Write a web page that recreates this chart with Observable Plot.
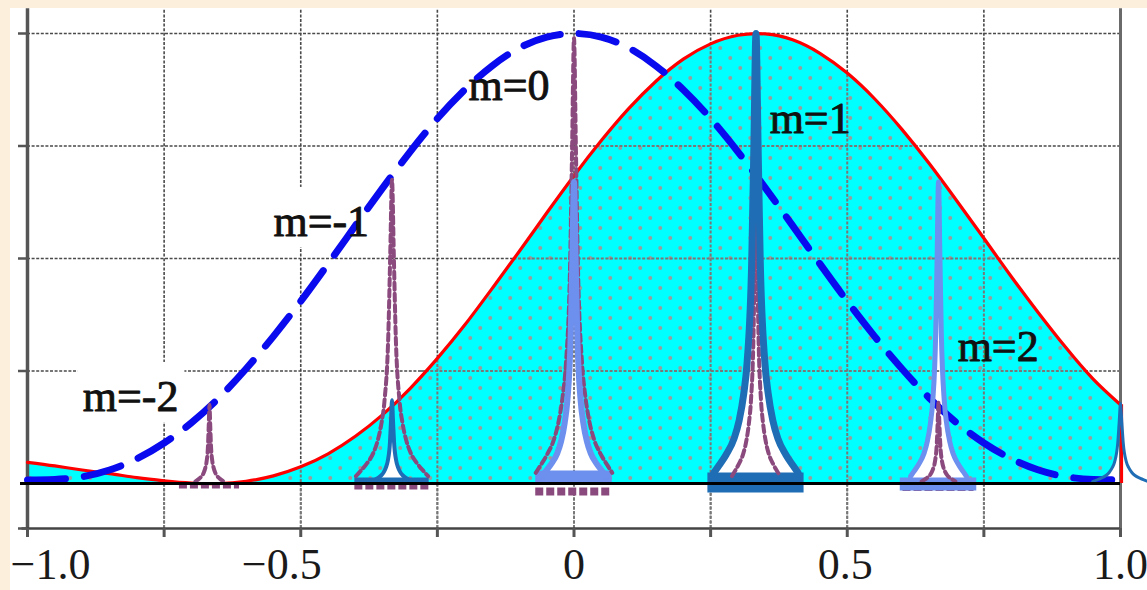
<!DOCTYPE html>
<html>
<head>
<meta charset="utf-8">
<script src="https://cdn.jsdelivr.net/npm/d3@7"></script>
<script src="https://cdn.jsdelivr.net/npm/@observablehq/plot@0.6"></script>
<style>
  html, body { margin: 0; padding: 0; background: #fcf0dc; overflow: hidden; }
  #chart { position: absolute; left: 10px; top: 8px; width: 1137px; height: 582px; background: #ffffff; }
  #chart svg { display: block; }
</style>
</head>
<body>
<div id="chart"></div>
<script>
// ---------------- DATA ----------------
const envX = [-1.00,-0.95,-0.90,-0.85,-0.80,-0.75,-0.70,-0.65,-0.60,-0.55,-0.50,-0.45,-0.40,-0.35,-0.30,-0.25,-0.20,-0.15,-0.10,-0.05,
               0.00, 0.05, 0.10, 0.15, 0.20, 0.25, 0.30, 0.35, 0.40, 0.45, 0.50, 0.55, 0.60, 0.65, 0.70, 0.75, 0.80, 0.85, 0.90, 0.95, 1.00];
// red envelope (filled cyan), peak at 1/3
const blazedEnvelope = [0.047,0.039,0.030,0.022,0.013,0.006,0.001,0.000,0.005,0.017,0.037,0.066,0.105,0.153,0.211,0.278,0.352,0.433,0.516,0.601,
                        0.684,0.762,0.833,0.894,0.943,0.977,0.996,0.999,0.986,0.956,0.912,0.855,0.787,0.711,0.629,0.545,0.460,0.379,0.302,0.232,0.175];
// blue dashed envelope, peak at 0
const gratingEnvelope = [0.008,0.009,0.015,0.030,0.055,0.090,0.135,0.190,0.255,0.327,0.405,0.488,0.573,0.657,0.737,0.811,0.875,0.928,0.968,0.992,
                         1.000,0.992,0.968,0.928,0.875,0.811,0.737,0.657,0.573,0.488,0.405,0.327,0.255,0.190,0.135,0.090,0.055,0.030,0.015,0.009,0.008];

// narrow diffraction orders (shape profile: offset in half-widths, relative height)
const peakProfileU = [-1, -0.88, -0.71, -0.52, -0.4, -0.29, -0.21, -0.1, -0.05, 0, 0.05, 0.1, 0.21, 0.29, 0.4, 0.52, 0.71, 0.88, 1];
const peakProfileR = [0.024, 0.04, 0.064, 0.1, 0.14, 0.2, 0.27, 0.5, 0.75, 1, 0.75, 0.5, 0.27, 0.2, 0.14, 0.1, 0.064, 0.04, 0.024];

const unblazedX      = [-0.667, -0.333, 0.000, 0.333, 0.667];
const unblazedHeight = [0.175, 0.675, 0.990, 0.680, 0.180];
const unblazedWidth  = [0.026, 0.066, 0.070, 0.044, 0.031];

const blazedX      = [-0.333, 0.000, 0.333, 0.667, 1.000];
const blazedHeight = [0.185, 0.670, 1.000, 0.670, 0.178];
const blazedWidth  = [0.037, 0.059, 0.077, 0.051, 0.051];

const xTicks = [-1, -0.75, -0.5, -0.25, 0, 0.25, 0.5, 0.75, 1];
const xLabelTicks = [-1, -0.5, 0, 0.5, 1];
const xTickLabels = ["\u22121.0", "\u22120.5", "0", "0.5", "1.0"];
const yTicks = [-0.1, 0.25, 0.5, 0.75, 1];
const gridX = [-0.75, -0.5, -0.25, 0, 0.25, 0.5, 0.75];
const gridY = [0.25, 0.5, 0.75, 1];
// height of the fill at each vertical grid line, and where the horizontal grid lines enter / leave it
const gridXFillTop    = [0.006, 0.037, 0.278, 0.684, 0.977, 0.912, 0.545];
const gridInFillY     = [0.25, 0.5, 0.75];
const gridInFillLeft  = [-0.279, -0.110, 0.042];
const gridInFillRight = [0.937, 0.777, 0.624];

const orderLabels = ["m=-2", "m=-1", "m=0", "m=1", "m=2"];
const orderLabelX = [-0.899, -0.550, -0.193, 0.358, 0.702];
const orderLabelY = [0.162, 0.551, 0.853, 0.778, 0.273];

// ---------------- STYLES ----------------
const DARK = "#1f6eb5", LIGHT = "#6d8fee", PURPLE = "#8b4a7d", RED = "#ff0000", BLUE = "#0a0aee", CYAN = "#00ffff";
const SERIF = "'Liberation Serif', 'Times New Roman', 'DejaVu Serif', serif";
const blazedStyle = [
  {stroke: DARK,  sw: 4, bar: {half: 0.068, y: 0.008,  sw: 5}},
  {stroke: LIGHT, sw: 6, bar: {half: 0.070, y: 0.0145, sw: 13}},
  {stroke: DARK,  sw: 7, bar: {half: 0.088, y: 0.002,  sw: 20}},
  {stroke: LIGHT, sw: 5, bar: {half: 0.070, y: -0.001, sw: 13}},
  {stroke: DARK,  sw: 3, bar: null}
];
const purpleBar = [
  {half: 0.055, y: -0.0055, sw: 5},
  {half: 0.068, y: -0.0067, sw: 6},
  {half: 0.070, y: -0.018,  sw: 8},
  {half: 0.080, y: -0.010,  sw: 8},
  {half: 0.065, y: -0.010,  sw: 6}
];
const tickLabelDx = [23, -19, 0, -2, 0];

// ---------------- TABLES ----------------
const env = envX.map((x, i) => ({x, blazed: blazedEnvelope[i], grating: gratingEnvelope[i]}));
const peakRows = (c, h, w) => peakProfileU.map((u, j) => ({x: c + u * w, y: h * peakProfileR[j]}));
const unblazed = unblazedX.map((c, i) => peakRows(c, unblazedHeight[i], unblazedWidth[i]));
const blazed = blazedX.map((c, i) => peakRows(c, blazedHeight[i], blazedWidth[i]));
const labels = orderLabels.map((t, i) => ({text: t, x: orderLabelX[i], y: orderLabelY[i]}));

// decorative dot texture of the cyan fill (a regular lattice, kept under the red outline)
const envAt = x => {
  const i = Math.max(0, Math.min(envX.length - 2, Math.floor((x - envX[0]) / 0.05)));
  const t = (x - envX[i]) / (envX[i + 1] - envX[i]);
  return blazedEnvelope[i] + t * (blazedEnvelope[i + 1] - blazedEnvelope[i]);
};
const texture = [];
{
  const stepX = 20 / 546.5, stepY = 10 / 450;
  for (let k = 0; k * stepY < 1; k++) {
    const y = 0.012 + k * stepY;
    const off = (k % 2) * stepX / 2;
    for (let x = -0.995 + off; x < 0.995; x += stepX) {
      if (y < envAt(x) - 0.012) texture.push({x, y});
    }
  }
}

const gridDark = {stroke: "#4a4a4a", strokeWidth: 1.6, strokeDasharray: "3,1.6"};
const gridLight = {stroke: "#787878", strokeWidth: 2, strokeDasharray: "3,1.6"};

const marks = [];
marks.push(Plot.ruleX(gridX, {x: d => d, y1: -0.1, y2: 1.055, ...gridDark}));
marks.push(Plot.ruleY(gridY, {y: d => d, x1: -1, x2: 1, ...gridDark}));
marks.push(Plot.rect(labels.slice(0, 2), {x1: d => d.x - 0.009, x2: d => d.x + 0.187, y1: d => d.y - 0.027, y2: d => d.y + 0.107, fill: "white"}));
// cyan area under the red envelope + dot texture
marks.push(Plot.areaY(env, {x: "x", y: "blazed", curve: "natural", fill: CYAN}));
marks.push(Plot.dot(texture, {x: "x", y: "y", r: 2, fill: "#9c9c9c", stroke: "none"}));
// white interiors of the blazed peaks
blazed.forEach(rows => marks.push(Plot.areaY(rows, {x: "x", y: "y", curve: "monotone-x", fill: "white"})));
// lighter grid over the fill
marks.push(Plot.ruleX(gridX, {x: d => d, y1: -0.1, y2: (d, i) => gridXFillTop[i], ...gridLight}));
marks.push(Plot.ruleY(gridInFillY, {y: d => d, x1: (d, i) => gridInFillLeft[i], x2: (d, i) => gridInFillRight[i], ...gridLight}));
// frame lines
marks.push(Plot.ruleX([-1], {x: d => d, y1: -0.1, y2: 1.055, stroke: "#555", strokeWidth: 3.5}));
marks.push(Plot.ruleX([1], {x: d => d, y1: -0.1, y2: 1.055, stroke: "#6a6a6a", strokeWidth: 3}));
marks.push(Plot.ruleY([-0.1], {y: d => d, x1: -1.01, x2: 1, stroke: "#444", strokeWidth: 2.5}));
// red envelope outline
marks.push(Plot.line(env, {x: "x", y: "blazed", curve: "natural", stroke: RED, strokeWidth: 3.2}));
marks.push(Plot.ruleX([1], {x: d => d + 0.002, y1: 0, y2: blazedEnvelope[blazedEnvelope.length - 1], stroke: RED, strokeWidth: 3}));
// blue dashed envelope
marks.push(Plot.line(env, {x: "x", y: "grating", curve: "natural", stroke: BLUE, strokeWidth: 7, strokeDasharray: "38,19"}));
// bars at the base of the orders
unblazedX.forEach((c, i) => {
  const b = purpleBar[i];
  marks.push(Plot.ruleY([b.y], {y: d => d, x1: c - b.half, x2: c + b.half, stroke: PURPLE, strokeWidth: b.sw, strokeDasharray: "8,3"}));
});
blazedX.forEach((c, i) => {
  const b = blazedStyle[i].bar;
  if (b) marks.push(Plot.ruleY([b.y], {y: d => d, x1: c - b.half, x2: c + b.half, stroke: blazedStyle[i].stroke, strokeWidth: b.sw}));
});
// peak outlines
unblazed.forEach(rows => marks.push(Plot.line(rows, {x: "x", y: "y", curve: "monotone-x", stroke: PURPLE, strokeWidth: 4, strokeDasharray: "7,4"})));
blazed.forEach((rows, i) => marks.push(Plot.line(rows, {x: "x", y: "y", curve: "monotone-x", stroke: blazedStyle[i].stroke, strokeWidth: blazedStyle[i].sw})));
// black baseline
marks.push(Plot.ruleY([0], {y: d => d, x1: -1.0128, x2: 1, stroke: "black", strokeWidth: 3}));
// axes ticks
marks.push(Plot.axisY({anchor: "left", ticks: yTicks, tickSize: 9, tickFormat: () => "", label: null, stroke: "#555", strokeWidth: 2.5}));
marks.push(Plot.axisX({anchor: "bottom", ticks: xTicks, tickSize: 9, tickFormat: () => "", label: null, stroke: "#555", strokeWidth: 3}));
// tick labels
xLabelTicks.forEach((t, i) => marks.push(Plot.text([t], {
  x: d => d, text: () => xTickLabels[i], frameAnchor: "bottom", lineAnchor: "bottom",
  dy: 50, dx: tickLabelDx[i], fontSize: 44, fontFamily: SERIF, fill: "#1a1a1a"
})));
// order labels
marks.push(Plot.text(labels, {
  x: "x", y: "y", text: "text", textAnchor: "start", lineAnchor: "bottom",
  fontSize: 44, fontFamily: SERIF, fill: "#111", stroke: "#111", strokeWidth: 0.9
}));

const chart = Plot.plot({
  width: 1137, height: 582,
  marginLeft: 17, marginRight: 27, marginTop: 25, marginBottom: 62,
  x: {domain: [-1, 1], label: null},
  y: {domain: [-0.1, 1], label: null},
  style: {background: "white", overflow: "visible"},
  marks
});
document.getElementById("chart").appendChild(chart);
</script>
</body>
</html>
